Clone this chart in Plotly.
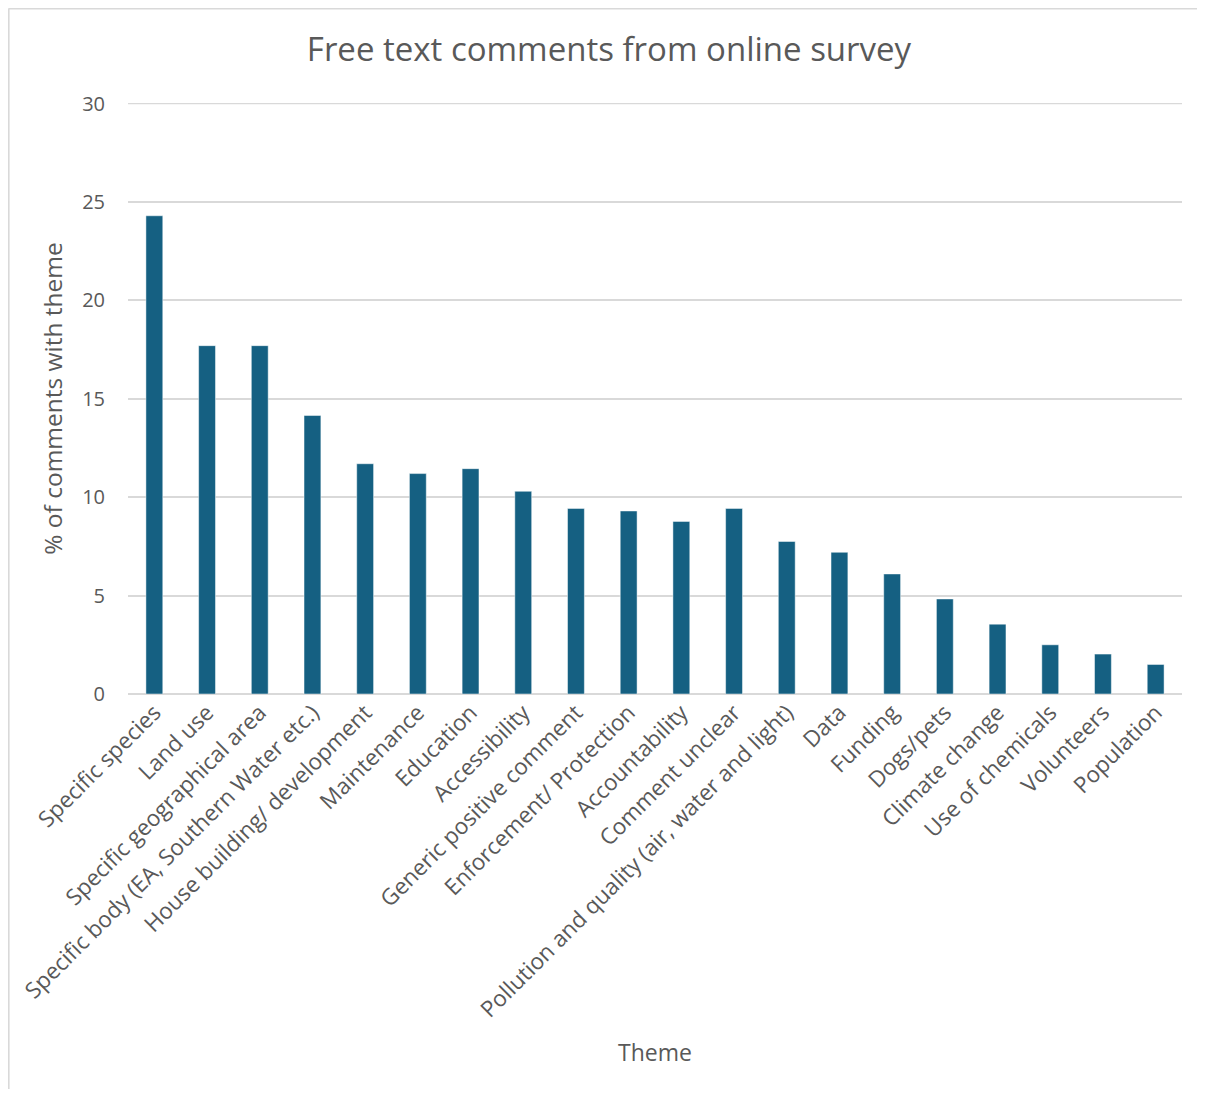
import plotly.graph_objects as go

categories = [
    "Specific species", "Land use", "Specific geographical area",
    "Specific body (EA, Southern Water etc.)", "House building/ development",
    "Maintenance", "Education", "Accessibility", "Generic positive comment",
    "Enforcement/ Protection", "Accountability", "Comment unclear",
    "Pollution and quality (air, water and light)", "Data", "Funding",
    "Dogs/pets", "Climate change", "Use of chemicals", "Volunteers", "Population",
]
values = [24.3, 17.7, 17.7, 14.15, 11.7, 11.2, 11.45, 10.3, 9.43, 9.3,
          8.77, 9.43, 7.75, 7.2, 6.1, 4.83, 3.55, 2.5, 2.03, 1.5]
y_ticks = [0, 5, 10, 15, 20, 25, 30]

FONT = "Open Sans"
GREY = "#595959"
LINE = "#d9d9d9"

# page body has an 8px margin: figure occupies x 8..1197, y 8..1089
W, H = 1189, 1081
L, R, T, B = 120, 15, 95, 395
pw = W - L - R
ph = H - T - B

fig = go.Figure(go.Bar(
    x=categories, y=values,
    marker=dict(color="#156082", line=dict(color="rgba(255,255,255,0.6)", width=0.8)),
    hoverinfo="x+y",
))

fig.update_layout(
    width=W, height=H,
    margin=dict(l=L, r=R, t=T, b=B, autoexpand=False),
    paper_bgcolor="white", plot_bgcolor="white",
    bargap=0.68,
    showlegend=False,
    font=dict(family=FONT, color=GREY),
    title=dict(text="Free text comments from online survey",
               x=601 / W, xanchor="center",
               y=1 - 41 / H, yanchor="middle",
               font=dict(family=FONT, size=33, color=GREY)),
)

fig.update_xaxes(
    tickangle=-45, tickfont=dict(family=FONT, size=22.5, color=GREY),
    showgrid=False, showline=False, ticks="", automargin=False,
    title=dict(text="Theme", font=dict(family=FONT, size=23, color=GREY), standoff=22),
)
fig.update_yaxes(
    range=[0, 30.03], tickvals=y_ticks, ticktext=[str(v) for v in y_ticks],
    tickfont=dict(family=FONT, size=20, color=GREY),
    showgrid=True, gridcolor=LINE, gridwidth=1.5,
    zeroline=True, zerolinecolor=LINE, zerolinewidth=1.5,
    showline=False, ticks="", ticklabelstandoff=22, automargin=False,
    title=dict(text="% of comments with theme", font=dict(family=FONT, size=24.5, color=GREY), standoff=12),
)

# top gridline (at the top of the axis range)
fig.add_shape(type="line", xref="paper", yref="y",
              x0=0, x1=1, y0=y_ticks[-1], y1=y_ticks[-1],
              line=dict(color=LINE, width=1.5), layer="below")

# outer chart border (top and left edges only visible)
fig.add_shape(type="line", xref="paper", yref="paper",
              x0=(0.5 - L) / pw, x1=(W - L) / pw,
              y0=(T + ph - 0.8) / ph, y1=(T + ph - 0.8) / ph,
              line=dict(color=LINE, width=1.6), layer="below")
fig.add_shape(type="line", xref="paper", yref="paper",
              x0=(0.8 - L) / pw, x1=(0.8 - L) / pw,
              y0=(T + ph - 0.5) / ph, y1=(T + ph - H) / ph,
              line=dict(color=LINE, width=1.6), layer="below")

fig.write_html("out.html")
